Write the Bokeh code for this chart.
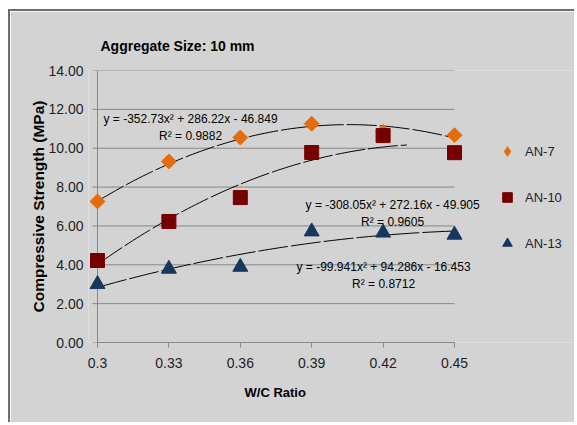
import numpy as np
from bokeh.plotting import figure
from bokeh.models import Range1d, FixedTicker, Legend, LegendItem, Label, Title
from bokeh.embed import file_html
from bokeh.resources import INLINE

# ---------------- data ----------------
wc_ratio = [0.3, 0.33, 0.36, 0.39, 0.42, 0.45]
x_tick_labels = ["0.3", "0.33", "0.36", "0.39", "0.42", "0.45"]
an7 = [7.26, 9.32, 10.55, 11.26, 10.84, 10.67]
an10 = [4.22, 6.23, 7.46, 9.78, 10.65, 9.77]
an13 = [3.00, 3.79, 3.89, 5.71, 5.65, 5.54]
y_ticks = [0, 2, 4, 6, 8, 10, 12, 14]
y_tick_labels = ["0.00", "2.00", "4.00", "6.00", "8.00", "10.00", "12.00", "14.00"]
series_names = ["AN-7", "AN-10", "AN-13"]
# polynomial trendlines (a x^2 + b x + c) and R^2 as printed on the chart
an7_fit = [-352.73, 286.22, -46.849]
an10_fit = [-308.05, 272.16, -49.905]
an13_fit = [-99.941, 94.286, -16.453]
r2_values = [0.9882, 0.9605, 0.8712]
fit_end = [0.45, 0.43, 0.45]

title_text = "Aggregate Size: 10 mm"
x_title = "W/C Ratio"
y_title = "Compressive Strength (MPa)"

# ---------------- style ----------------
BG = "#D3D3D3"
GRID = "#878787"
TXT = "#1f1f1f"
FONT = "Liberation Sans"
C7, C10, C13 = "#E46C0A", "#760000", "#17375E"

PX = 2380.0  # pixels per unit of w/c ratio
p = figure(width=566, height=413, output_backend="svg", toolbar_location=None,
           x_range=Range1d(wc_ratio[0] - 9 / PX, wc_ratio[0] + 479 / PX),
           y_range=Range1d(y_ticks[0], y_ticks[-1]),
           min_border_left=78, min_border_right=0,
           min_border_top=59, min_border_bottom=82)
p.background_fill_color = BG
p.border_fill_color = BG
p.outline_line_color = None
p.xgrid.visible = False
p.ygrid.visible = False
p.styles = {"margin-left": "8px", "margin-top": "9px",
            "border-left": "2px solid #6e6e6e", "border-top": "2px solid #6e6e6e"}

# chart title (above) and x-axis title (below), both left-anchored
p.title = Title(text=title_text, align="left", offset=12, standoff=30,
                vertical_align="top",
                text_font=FONT, text_font_size="14px", text_font_style="bold",
                text_color="#000000")
p.add_layout(Title(text=x_title, align="left", offset=156, standoff=24,
                   text_font=FONT, text_font_size="13px", text_font_style="bold",
                   text_color="#000000"), "below")

# x axis
xa = p.xaxis[0]
xa.ticker = FixedTicker(ticks=wc_ratio)
xa.major_label_overrides = {v: s for v, s in zip(wc_ratio, x_tick_labels)}
xa.bounds = (wc_ratio[0], wc_ratio[-1])
xa.axis_line_color = GRID
xa.major_tick_line_color = GRID
xa.major_tick_out = 5
xa.major_tick_in = 0
xa.minor_tick_line_color = None
xa.major_label_standoff = 10
xa.major_label_text_font = FONT
xa.major_label_text_font_size = "14px"
xa.major_label_text_color = TXT

# y axis (labels only; line and ticks drawn at x = 0.3)
ya = p.yaxis[0]
ya.ticker = FixedTicker(ticks=y_ticks)
ya.major_label_overrides = {v: s for v, s in zip(y_ticks, y_tick_labels)}
ya.axis_line_color = None
ya.major_tick_line_color = None
ya.minor_tick_line_color = None
ya.major_tick_out = 0
ya.major_tick_in = 0
ya.major_label_standoff = 5
ya.major_label_text_font = FONT
ya.major_label_text_font_size = "14px"
ya.major_label_text_color = TXT
ya.axis_label = y_title
ya.axis_label_text_font = FONT
ya.axis_label_text_font_size = "15.5px"
ya.axis_label_text_font_style = "bold"
ya.axis_label_text_color = "#000000"
ya.axis_label_standoff = -2

# gridlines and y axis line spanning x = 0.3 .. 0.45
n = len(y_ticks)
p.segment(x0=[wc_ratio[0]] * n, x1=[wc_ratio[-1]] * n, y0=y_ticks, y1=y_ticks,
          line_color=GRID, line_width=1)
p.segment(x0=[wc_ratio[0]], x1=[wc_ratio[0]], y0=[y_ticks[0]], y1=[y_ticks[-1]],
          line_color=GRID, line_width=1)
p.ray(x=[wc_ratio[0]] * n, y=y_ticks, length=5, length_units="screen",
      angle=np.pi, line_color=GRID, line_width=1)

# trendlines
for fit, xend in zip([an7_fit, an10_fit, an13_fit], fit_end):
    xs = np.linspace(wc_ratio[0], xend, 80)
    p.line(xs, np.polyval(fit, xs), line_color="black", line_width=1,
           line_dash="30 3")

# markers
r7 = p.scatter(wc_ratio, an7, marker="square", angle=np.pi / 4, size=10.5,
               fill_color=C7, line_color=C7)
r10 = p.scatter(wc_ratio, an10, marker="square", size=14,
                fill_color=C10, line_color=C10)
r13 = p.scatter(wc_ratio, an13, marker="triangle", size=15,
                fill_color=C13, line_color=C13)
# legend swatch for the diamond series (a single undrawn point)
r7_key = p.scatter(x=[np.nan], y=[np.nan], marker="diamond",
                   fill_color=C7, line_color=C7)

# equations
def eq(fit):
    a, b, c = fit
    return f"y = {a}x\u00b2 + {b}x - {abs(c)}"

eq_pos = [(0.3391, 11.51, 10.64), (0.4240, 7.09, 6.21), (0.4202, 3.90, 3.02)]
for fit, r2, (ex, ey, ry) in zip([an7_fit, an10_fit, an13_fit], r2_values, eq_pos):
    p.add_layout(Label(x=ex, y=ey, text=eq(fit), text_align="center",
                       text_baseline="middle", text_font=FONT,
                       text_font_size="12px", text_color="#000000"))
    p.add_layout(Label(x=ex, y=ry, text=f"R\u00b2 = {r2}", text_align="center",
                       text_baseline="middle", text_font=FONT,
                       text_font_size="12px", text_color="#000000"))

legend = Legend(items=[LegendItem(label=series_names[0], renderers=[r7_key]),
                       LegendItem(label=series_names[1], renderers=[r10]),
                       LegendItem(label=series_names[2], renderers=[r13])],
                location=(407, 87), orientation="vertical",
                glyph_width=24, glyph_height=24, label_height=24,
                spacing=22, padding=10, label_standoff=6,
                label_text_font=FONT, label_text_font_size="13px",
                label_text_color=TXT,
                background_fill_alpha=0, border_line_color=None)
p.add_layout(legend)

open("out.html", "w").write(file_html(p, INLINE))
